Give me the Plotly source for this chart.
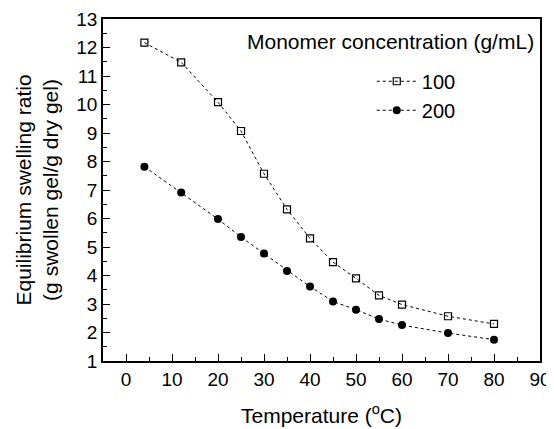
import plotly.graph_objects as go

temperature = [4, 12, 20, 25, 30, 35, 40, 45, 50, 55, 60, 70, 80]
ratio_100 = [12.17, 11.48, 10.08, 9.07, 7.57, 6.32, 5.30, 4.47, 3.90, 3.30, 2.98, 2.57, 2.30]
ratio_200 = [7.82, 6.91, 5.98, 5.35, 4.77, 4.16, 3.61, 3.09, 2.80, 2.47, 2.26, 1.98, 1.75]
series_names = ["100", "200"]
legend_title = "Monomer concentration (g/mL)"
x_ticks = [0, 10, 20, 30, 40, 50, 60, 70, 80, 90]
y_ticks = list(range(1, 14))

FONT = "Liberation Sans, Arial, sans-serif"

fig = go.Figure()
fig.add_trace(go.Scatter(
    x=temperature, y=ratio_100, name=series_names[0], mode="lines+markers",
    line=dict(color="black", width=1, dash="3px,3px"),
    marker=dict(symbol="square-open", size=7, color="black", line=dict(width=1.2, color="black")),
))
fig.add_trace(go.Scatter(
    x=temperature, y=ratio_200, name=series_names[1], mode="lines+markers",
    line=dict(color="black", width=1, dash="3px,3px"),
    marker=dict(symbol="circle", size=8, color="black"),
))

axis_common = dict(
    showline=True, linecolor="black", linewidth=1.5, mirror=True,
    showgrid=False, zeroline=False, automargin=False,
    ticks="inside", ticklen=7, tickwidth=1.2, tickcolor="black",
    tickfont=dict(family=FONT, size=19, color="black"),
)

# The page body has an 8px margin, so the figure is made 8px smaller.
fig.update_layout(
    width=546, height=421,
    margin=dict(l=95, r=14, t=11, b=68),
    paper_bgcolor="white", plot_bgcolor="white",
    font=dict(family=FONT, color="black"),
    showlegend=True,
    legend=dict(x=0.615, y=0.875, xanchor="left", yanchor="top",
                font=dict(family=FONT, size=20, color="black"),
                bgcolor="rgba(0,0,0,0)", itemwidth=40, tracegroupgap=0),
    xaxis=dict(range=[-5, 90], tickvals=x_ticks,
               minor=dict(ticks="inside", ticklen=4, dtick=5, tickcolor="black", tickwidth=1.2),
               title=dict(text="Temperature (<sup>o</sup>C)", font=dict(family=FONT, size=21), standoff=20),
               **axis_common),
    yaxis=dict(range=[1, 13], tickvals=y_ticks,
               minor=dict(ticks="inside", ticklen=4, dtick=0.5, tickcolor="black", tickwidth=1.2),
               title=dict(text="Equilibrium swelling ratio<br>(g swollen gel/g dry gel)",
                          font=dict(family=FONT, size=21), standoff=12),
               **axis_common),
    annotations=[dict(text=legend_title, xref="paper", yref="paper", x=0.99, y=0.935,
                      xanchor="right", yanchor="middle", showarrow=False,
                      font=dict(family=FONT, size=21, color="black"))],
)

fig.write_html("out.html")
